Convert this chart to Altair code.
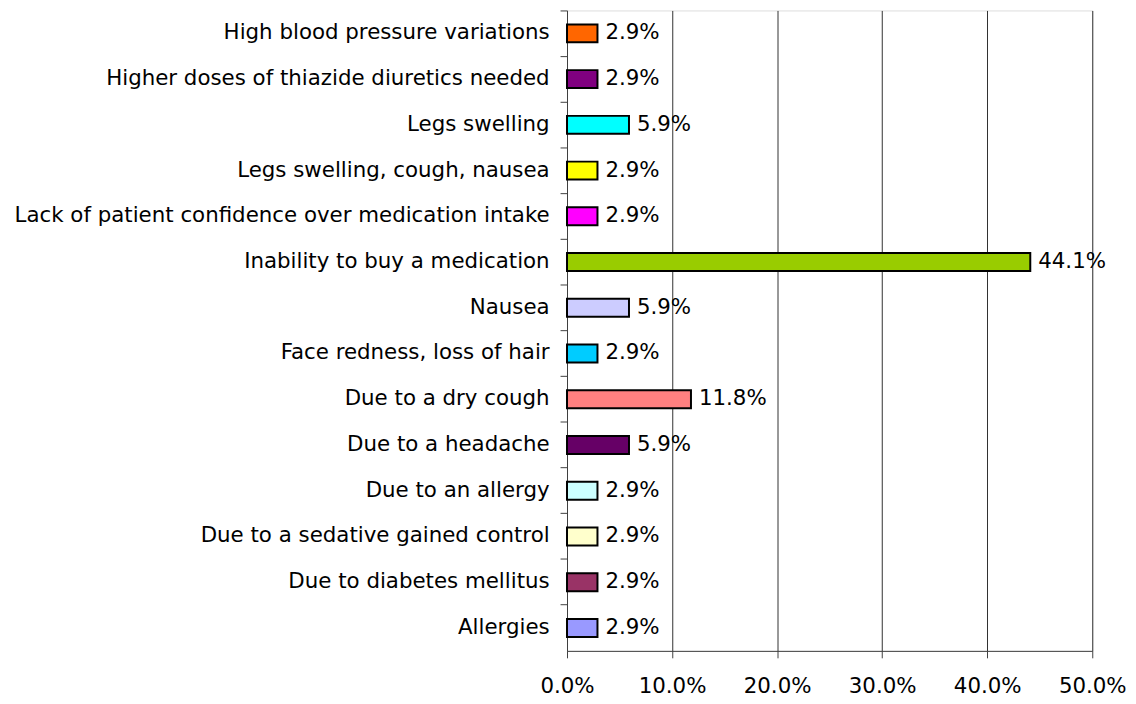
import altair as alt
import pandas as pd

categories = [
    "High blood pressure variations",
    "Higher doses of thiazide diuretics needed",
    "Legs swelling",
    "Legs swelling, cough, nausea",
    "Lack of patient confidence over medication intake",
    "Inability to buy a medication",
    "Nausea",
    "Face redness, loss of hair",
    "Due to a dry cough",
    "Due to a headache",
    "Due to an allergy",
    "Due to a sedative gained control",
    "Due to diabetes mellitus",
    "Allergies",
]
values = [0.029, 0.029, 0.059, 0.029, 0.029, 0.441, 0.059, 0.029, 0.118, 0.059, 0.029, 0.029, 0.029, 0.029]
colors = ["#FF6600", "#800080", "#00FFFF", "#FFFF00", "#FF00FF", "#99CC00", "#CCCCFF",
          "#00CCFF", "#FF8080", "#660066", "#CCFFFF", "#FFFFCC", "#993366", "#9999FF"]
x_ticks = [0.0, 0.1, 0.2, 0.3, 0.4, 0.5]

df = pd.DataFrame({"category": categories, "value": values, "color": colors})

FONT = "DejaVu Sans"
FS = 21.5

y_enc = alt.Y("category:N", sort=categories, title=None,
              scale=alt.Scale(paddingInner=0, paddingOuter=0),
              axis=alt.Axis(labelFont=FONT, labelFontSize=FS, labelColor="black",
                            labelPadding=11, ticks=True, tickSize=7, tickColor="#404040",
                            tickWidth=1, domainColor="#404040", bandPosition=0,
                            labelLimit=700))
x_enc = alt.X("value:Q", title=None,
              scale=alt.Scale(domain=[0, 0.5], nice=False),
              axis=alt.Axis(values=x_ticks, format=".1%", labelFont=FONT, labelFontSize=FS,
                            labelColor="black", tickSize=7, tickColor="#404040",
                            domainColor="#404040", grid=True, gridColor="#303030",
                            gridWidth=1, labelPadding=18, labelFlush=False))

bars = alt.Chart(df).mark_bar(size=18, stroke="black", strokeWidth=2).encode(
    y=y_enc, x=x_enc, color=alt.Color("color:N", scale=None)
)
text = alt.Chart(df).mark_text(align="left", baseline="middle", dx=8, font=FONT,
                                fontSize=FS, color="black").encode(
    y=alt.Y("category:N", sort=categories),
    x="value:Q",
    text=alt.Text("value:Q", format=".1%"),
)

chart = (bars + text).properties(
    width=529, height=645,
    autosize=alt.AutoSizeParams(type="none"),
    padding={"left": 563, "top": 0, "right": 36, "bottom": 46},
).configure_view(stroke=None).configure(background="white")

chart.save("out.html", embed_options={"renderer": "svg", "actions": False})
